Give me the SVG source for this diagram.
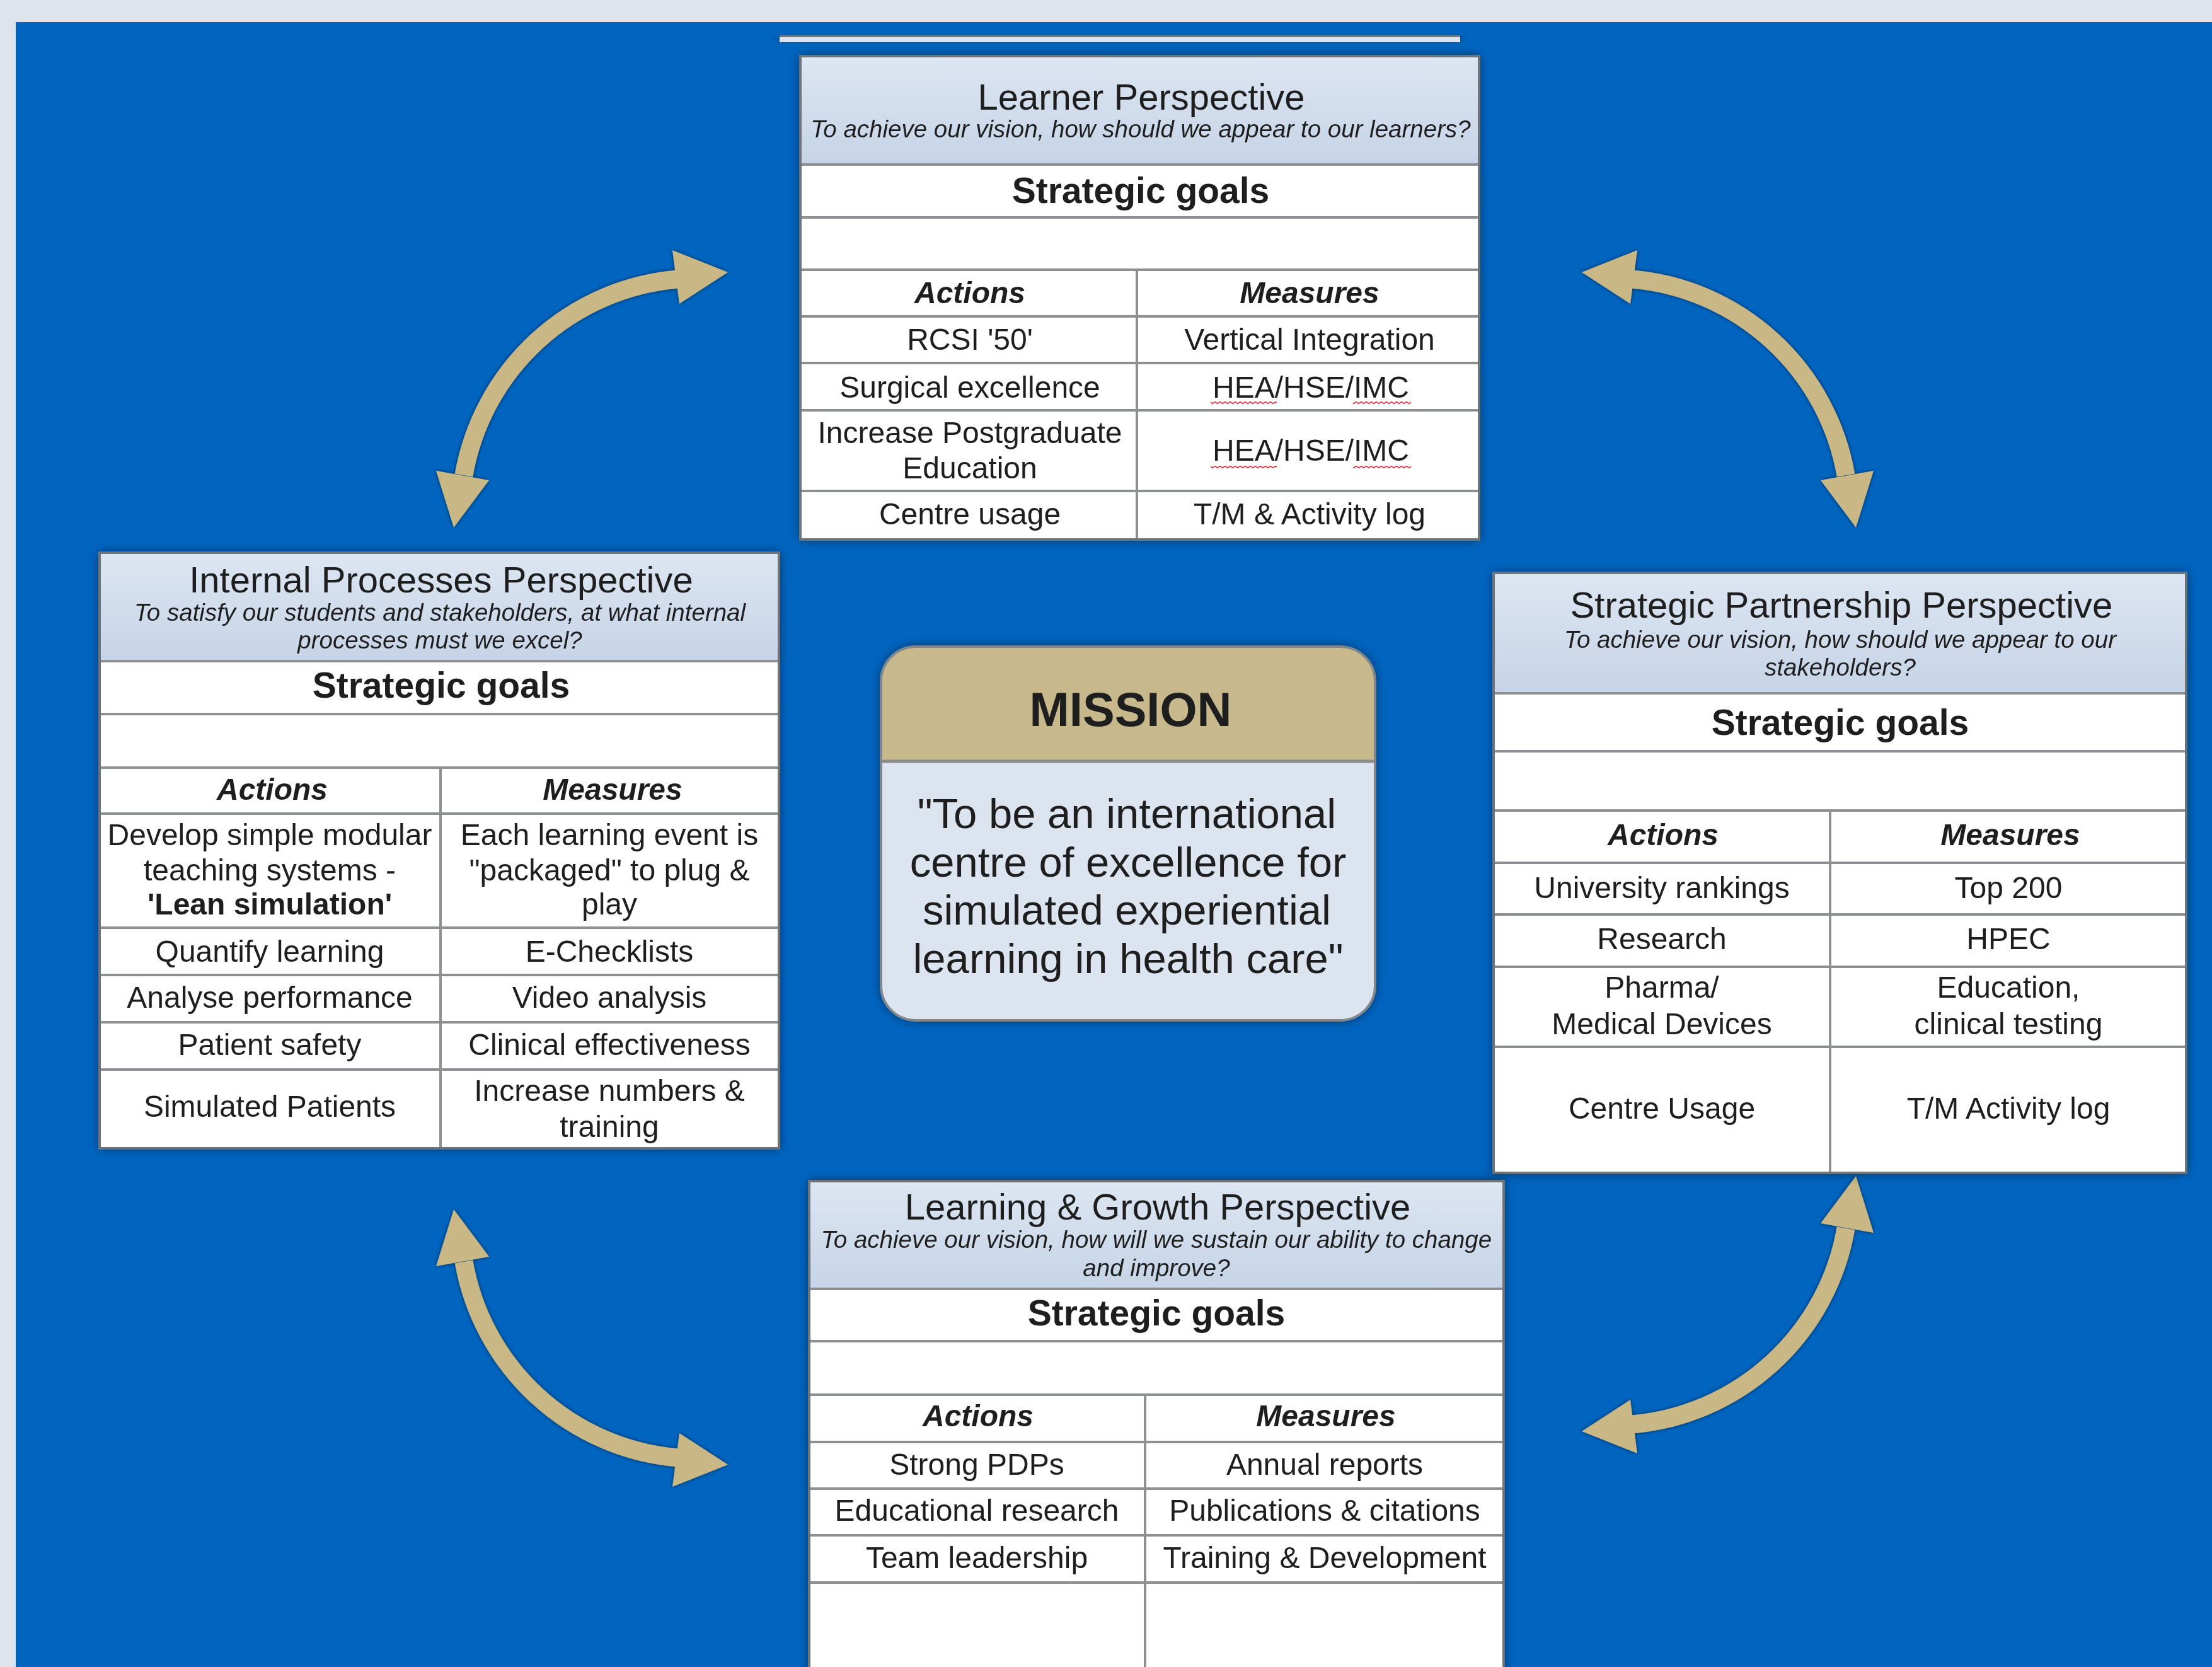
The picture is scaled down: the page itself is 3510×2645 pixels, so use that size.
<svg xmlns="http://www.w3.org/2000/svg" xmlns:xlink="http://www.w3.org/1999/xlink" width="3510" height="2645" viewBox="0 0 3510 2645">
<style>
text{font-family:"Liberation Sans",Arial,Helvetica,sans-serif;fill:#1e1e1e;text-anchor:middle}
.t{font-size:58px}
.st{font-size:38.5px;font-style:italic}
.sg{font-size:57px;font-weight:bold}
.ah{font-size:48px;font-weight:bold;font-style:italic}
.c{font-size:48px}
.cb{font-size:48px;font-weight:bold}
.mt{font-size:76px;font-weight:bold}
.mb{font-size:67px}
.cell{fill:#ffffff}
.hdr{fill:url(#hg)}
.ln{stroke:#8d8f92;stroke-width:4;fill:none}
.bd{fill:none;stroke:#6f747b;stroke-width:4}
.arr{fill:#c9b885}
.shaft{fill:none;stroke:#c9b885;stroke-width:29}
</style>
<defs>
<linearGradient id="hg" x1="0" y1="0" x2="0" y2="1">
<stop offset="0" stop-color="#dde6f2"/>
<stop offset="1" stop-color="#c6d4e7"/>
</linearGradient>
<filter id="sh" x="-5%" y="-5%" width="110%" height="110%">
<feGaussianBlur in="SourceAlpha" stdDeviation="9"/>
<feComponentTransfer><feFuncA type="linear" slope="0.55"/></feComponentTransfer>
<feMerge><feMergeNode/><feMergeNode in="SourceGraphic"/></feMerge>
</filter>
<filter id="ash" x="-10%" y="-10%" width="120%" height="120%">
<feGaussianBlur in="SourceAlpha" stdDeviation="3"/>
<feComponentTransfer><feFuncA type="linear" slope="0.6"/></feComponentTransfer>
<feMerge><feMergeNode/><feMergeNode in="SourceGraphic"/></feMerge>
</filter>
<pattern id="sq" width="8" height="6" patternUnits="userSpaceOnUse">
<polyline points="0,1.5 4,4.5 8,1.5" fill="none" stroke="#e0303a" stroke-width="1.6"/>
</pattern>
<g id="arrowTL">
<path class="shaft" d="M1075 443 A377 377 0 0 0 736 754"/>
<polygon class="arr" points="1155,432 1067,397 1078,482"/>
<polygon class="arr" points="720,837 692,747 776,762"/>
</g>
</defs>

<rect x="0" y="0" width="3510" height="2645" fill="#dfe4ec"/>
<rect x="25" y="35" width="3485" height="2610" fill="#0165c0"/>

<g id="top-strip">
<rect x="1237" y="56" width="1080" height="11" fill="#dbe4f0" filter="url(#sh)"/>
<line x1="1237" y1="57.5" x2="2317" y2="57.5" stroke="#737a83" stroke-width="3"/>
</g>

<g id="connectors" filter="url(#ash)">
<use xlink:href="#arrowTL"/>
<use xlink:href="#arrowTL" transform="matrix(-1 0 0 1 3665 0)"/>
<use xlink:href="#arrowTL" transform="matrix(1 0 0 -1 0 2756)"/>
<use xlink:href="#arrowTL" transform="matrix(-1 0 0 -1 3665 2703)"/>
</g>

<g id="node-learner">
<rect class="cell" x="1270" y="89" width="1077" height="767" filter="url(#sh)"/>
<rect class="hdr" x="1270" y="89" width="1077" height="172"/>
<path class="ln" d="M1270 261H2347M1270 345H2347M1270 428H2347M1270 502H2347M1270 576H2347M1270 651H2347M1270 779H2347M1804 428V856"/>
<rect class="bd" x="1270" y="89" width="1077" height="767"/>
<text class="t" x="1811" y="174">Learner Perspective</text>
<text class="st" x="1810" y="218">To achieve our vision, how should we appear to our learners?</text>
<text class="sg" x="1810" y="322">Strategic goals</text>
<text class="ah" x="1539" y="481">Actions</text>
<text class="ah" x="2078" y="481">Measures</text>
<text class="c" x="1539" y="555">RCSI '50'</text>
<text class="c" x="2078" y="555">Vertical Integration</text>
<text class="c" x="1539" y="631">Surgical excellence</text>
<text class="c" x="2080" y="631">HEA/HSE/IMC</text>
<text class="c" x="1539" y="703">Increase Postgraduate</text>
<text class="c" x="1539" y="759">Education</text>
<text class="c" x="2080" y="731">HEA/HSE/IMC</text>
<text class="c" x="1539" y="832">Centre usage</text>
<text class="c" x="2078" y="832">T/M &amp; Activity log</text>
<rect x="1921" y="637" width="105" height="6" fill="url(#sq)"/>
<rect x="2147" y="637" width="92" height="6" fill="url(#sq)"/>
<rect x="1921" y="737" width="105" height="6" fill="url(#sq)"/>
<rect x="2147" y="737" width="92" height="6" fill="url(#sq)"/>
</g>

<g id="node-internal">
<rect class="cell" x="158" y="877" width="1078" height="945" filter="url(#sh)"/>
<rect class="hdr" x="158" y="877" width="1078" height="172"/>
<path class="ln" d="M158 1049H1236M158 1133H1236M158 1218H1236M158 1291H1236M158 1472H1236M158 1547H1236M158 1622H1236M158 1697H1236M699 1218V1822"/>
<rect class="bd" x="158" y="877" width="1078" height="945"/>
<text class="t" x="700" y="940">Internal Processes Perspective</text>
<text class="st" x="698" y="985">To satisfy our students and stakeholders, at what internal</text>
<text class="st" x="698" y="1029">processes must we excel?</text>
<text class="sg" x="700" y="1107">Strategic goals</text>
<text class="ah" x="432" y="1269">Actions</text>
<text class="ah" x="972" y="1269">Measures</text>
<text class="c" x="428" y="1341">Develop simple modular</text>
<text class="c" x="428" y="1397">teaching systems -</text>
<text class="cb" x="428" y="1451">'Lean simulation'</text>
<text class="c" x="967" y="1341">Each learning event is</text>
<text class="c" x="967" y="1397">"packaged" to plug &amp;</text>
<text class="c" x="967" y="1451">play</text>
<text class="c" x="428" y="1526">Quantify learning</text>
<text class="c" x="967" y="1526">E-Checklists</text>
<text class="c" x="428" y="1599">Analyse performance</text>
<text class="c" x="967" y="1599">Video analysis</text>
<text class="c" x="428" y="1674">Patient safety</text>
<text class="c" x="967" y="1674">Clinical effectiveness</text>
<text class="c" x="428" y="1772">Simulated Patients</text>
<text class="c" x="967" y="1747">Increase numbers &amp;</text>
<text class="c" x="967" y="1804">training</text>
</g>

<g id="node-partnership">
<rect class="cell" x="2370" y="909" width="1099" height="952" filter="url(#sh)"/>
<rect class="hdr" x="2370" y="909" width="1099" height="191"/>
<path class="ln" d="M2370 1100H3469M2370 1192H3469M2370 1286H3469M2370 1369H3469M2370 1451H3469M2370 1534H3469M2370 1661H3469M2904 1286V1861"/>
<rect class="bd" x="2370" y="909" width="1099" height="952"/>
<text class="t" x="2922" y="980">Strategic Partnership Perspective</text>
<text class="st" x="2920" y="1028">To achieve our vision, how should we appear to our</text>
<text class="st" x="2920" y="1072">stakeholders?</text>
<text class="sg" x="2920" y="1166">Strategic goals</text>
<text class="ah" x="2639" y="1341">Actions</text>
<text class="ah" x="3190" y="1341">Measures</text>
<text class="c" x="2637" y="1425">University rankings</text>
<text class="c" x="3187" y="1425">Top 200</text>
<text class="c" x="2637" y="1506">Research</text>
<text class="c" x="3187" y="1506">HPEC</text>
<text class="c" x="2637" y="1583">Pharma/</text>
<text class="c" x="2637" y="1641">Medical Devices</text>
<text class="c" x="3187" y="1583">Education,</text>
<text class="c" x="3187" y="1641">clinical testing</text>
<text class="c" x="2637" y="1775">Centre Usage</text>
<text class="c" x="3187" y="1775">T/M Activity log</text>
</g>

<g id="node-growth">
<rect class="cell" x="1284" y="1874" width="1102" height="800" filter="url(#sh)"/>
<rect class="hdr" x="1284" y="1874" width="1102" height="171"/>
<path class="ln" d="M1284 2045H2386M1284 2128H2386M1284 2213H2386M1284 2288H2386M1284 2362H2386M1284 2436H2386M1284 2511H2386M1817 2213V2660"/>
<rect class="bd" x="1284" y="1874" width="1102" height="800"/>
<text class="t" x="1837" y="1935">Learning &amp; Growth Perspective</text>
<text class="st" x="1835" y="1980">To achieve our vision, how will we sustain our ability to change</text>
<text class="st" x="1835" y="2025">and improve?</text>
<text class="sg" x="1835" y="2103">Strategic goals</text>
<text class="ah" x="1552" y="2263">Actions</text>
<text class="ah" x="2104" y="2263">Measures</text>
<text class="c" x="1550" y="2340">Strong PDPs</text>
<text class="c" x="2102" y="2340">Annual reports</text>
<text class="c" x="1550" y="2413">Educational research</text>
<text class="c" x="2102" y="2413">Publications &amp; citations</text>
<text class="c" x="1550" y="2488">Team leadership</text>
<text class="c" x="2102" y="2488">Training &amp; Development</text>
</g>

<g id="node-mission">
<rect x="1398" y="1026" width="784" height="593" rx="55" fill="#dce4f0" filter="url(#sh)"/>
<path d="M1398 1208V1081A55 55 0 0 1 1453 1026H2127A55 55 0 0 1 2182 1081V1208Z" fill="#c7b98b"/>
<line x1="1398" y1="1208" x2="2182" y2="1208" stroke="#8a8c8e" stroke-width="5"/>
<rect x="1398" y="1026" width="784" height="593" rx="55" fill="none" stroke="#7f868e" stroke-width="4"/>
<text class="mt" x="1794" y="1152">MISSION</text>
<text class="mb" x="1788" y="1314">"To be an international</text>
<text class="mb" x="1790" y="1391">centre of excellence for</text>
<text class="mb" x="1788" y="1467">simulated experiential</text>
<text class="mb" x="1790" y="1544">learning in health care"</text>
</g>
</svg>
